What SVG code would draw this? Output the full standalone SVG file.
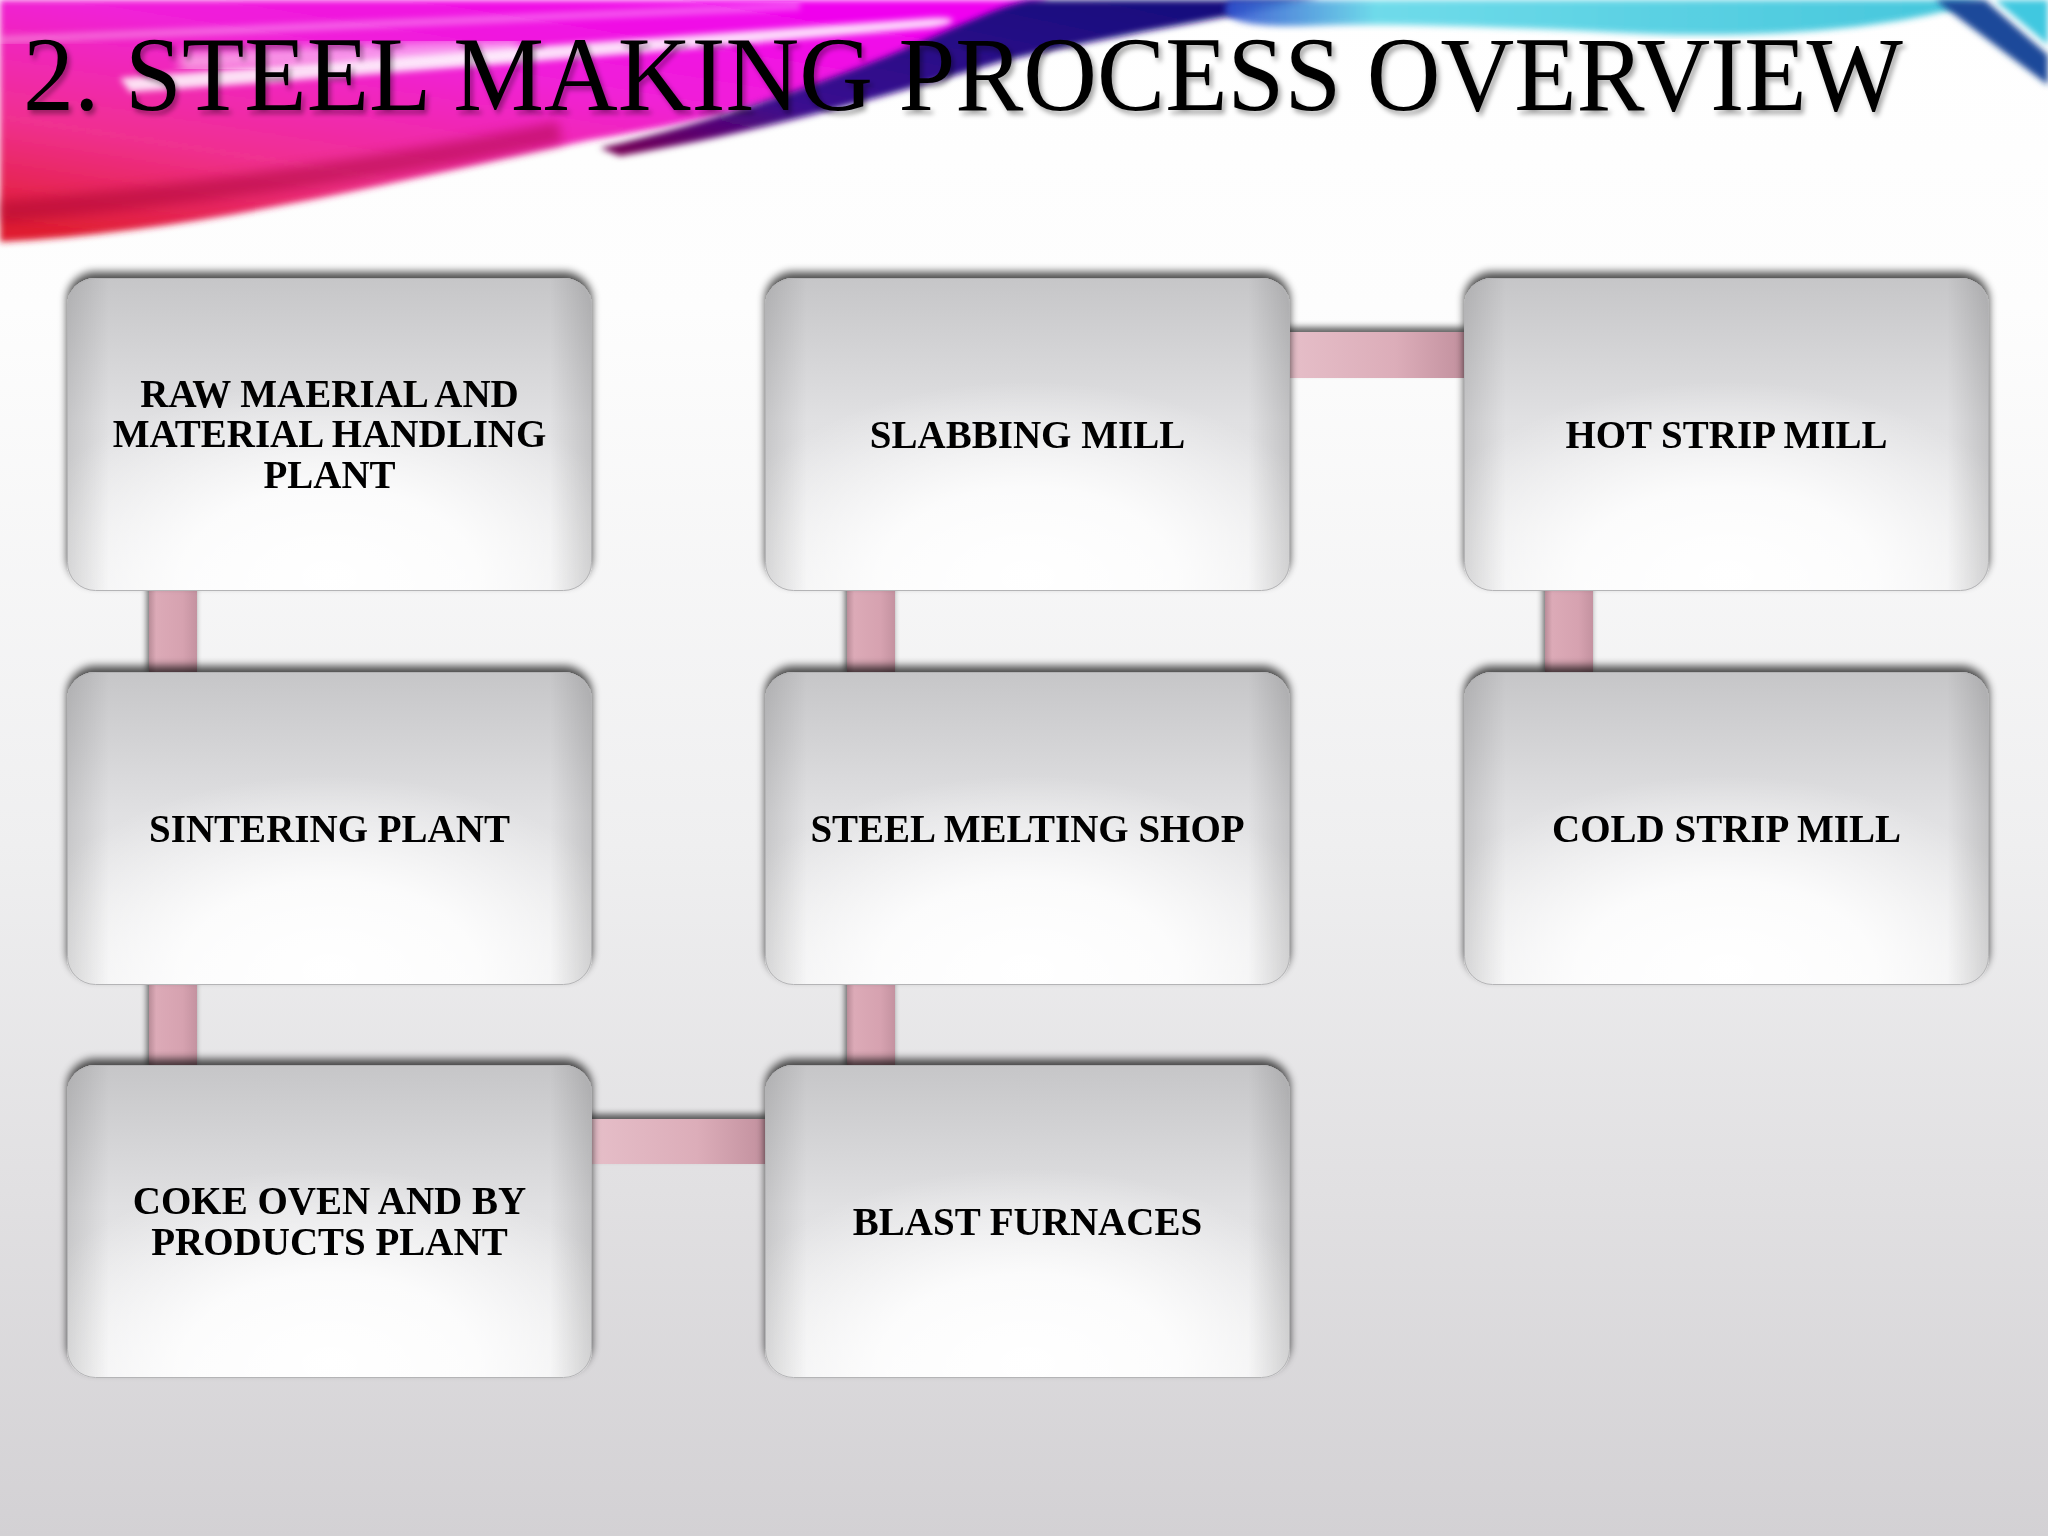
<svg xmlns="http://www.w3.org/2000/svg" width="2048" height="1536" viewBox="0 0 2048 1536">
<defs>
  <linearGradient id="bg" x1="0" y1="0" x2="0" y2="1">
    <stop offset="0" stop-color="#ffffff"/>
    <stop offset="0.2" stop-color="#fdfdfd"/>
    <stop offset="0.55" stop-color="#efeff0"/>
    <stop offset="1" stop-color="#d3d1d4"/>
  </linearGradient>
  <linearGradient id="pinkSwoosh" x1="0.8" y1="0" x2="0.1" y2="1">
    <stop offset="0" stop-color="#f000f0"/>
    <stop offset="0.35" stop-color="#f020d8"/>
    <stop offset="0.7" stop-color="#f03090"/>
    <stop offset="1" stop-color="#e01e30"/>
  </linearGradient>
  <linearGradient id="navy" x1="0" y1="1" x2="1" y2="0">
    <stop offset="0" stop-color="#7a0050"/>
    <stop offset="0.3" stop-color="#3a0a90"/>
    <stop offset="1" stop-color="#10107a"/>
  </linearGradient>
  <linearGradient id="cyan" x1="0" y1="0" x2="1" y2="0">
    <stop offset="0" stop-color="#3050d0"/>
    <stop offset="0.2" stop-color="#60d8e8"/>
    <stop offset="1" stop-color="#30c0d8"/>
  </linearGradient>
  <linearGradient id="boxV" x1="0" y1="0" x2="0" y2="1">
    <stop offset="0" stop-color="#c6c6c8"/>
    <stop offset="0.45" stop-color="#e0e0e2"/>
    <stop offset="1" stop-color="#eeeeef"/>
  </linearGradient>
  <radialGradient id="boxGlow" cx="0.5" cy="0.95" r="0.62">
    <stop offset="0" stop-color="#ffffff" stop-opacity="1"/>
    <stop offset="0.45" stop-color="#ffffff" stop-opacity="0.85"/>
    <stop offset="1" stop-color="#ffffff" stop-opacity="0"/>
  </radialGradient>
  <linearGradient id="boxH" x1="0" y1="0" x2="1" y2="0">
    <stop offset="0" stop-color="#000000" stop-opacity="0.12"/>
    <stop offset="0.08" stop-color="#000000" stop-opacity="0"/>
    <stop offset="0.92" stop-color="#000000" stop-opacity="0"/>
    <stop offset="1" stop-color="#000000" stop-opacity="0.14"/>
  </linearGradient>
  <linearGradient id="connV" x1="0" y1="0" x2="1" y2="0">
    <stop offset="0" stop-color="#b98c98"/>
    <stop offset="0.15" stop-color="#dcaab7"/>
    <stop offset="0.7" stop-color="#d6a2b0"/>
    <stop offset="1" stop-color="#c492a0"/>
  </linearGradient>
  <linearGradient id="connH" x1="0" y1="0" x2="1" y2="0">
    <stop offset="0" stop-color="#e6bfc9"/>
    <stop offset="0.6" stop-color="#dcadb9"/>
    <stop offset="1" stop-color="#c08e9c"/>
  </linearGradient>
  <filter id="boxShadow" x="-10%" y="-10%" width="120%" height="120%">
    <feGaussianBlur in="SourceAlpha" stdDeviation="4"/>
    <feOffset dx="0" dy="-6" result="b"/>
    <feComponentTransfer in="b" result="s"><feFuncA type="linear" slope="0.7"/></feComponentTransfer>
    <feMerge><feMergeNode in="s"/><feMergeNode in="SourceGraphic"/></feMerge>
  </filter>
  <filter id="connShadow" x="-20%" y="-40%" width="140%" height="180%">
    <feGaussianBlur in="SourceAlpha" stdDeviation="3"/>
    <feOffset dx="-2" dy="-5" result="b"/>
    <feComponentTransfer in="b" result="s"><feFuncA type="linear" slope="0.6"/></feComponentTransfer>
    <feMerge><feMergeNode in="s"/><feMergeNode in="SourceGraphic"/></feMerge>
  </filter>
  <filter id="titleShadow" x="-5%" y="-20%" width="110%" height="140%">
    <feDropShadow dx="3" dy="4" stdDeviation="2.5" flood-color="#000000" flood-opacity="0.35"/>
  </filter>
  <filter id="soft" x="-10%" y="-10%" width="120%" height="120%">
    <feGaussianBlur stdDeviation="3"/>
  </filter>
  <filter id="softer" x="-10%" y="-50%" width="120%" height="200%">
    <feGaussianBlur stdDeviation="6"/>
  </filter>
  <g id="boxShape">
    <rect x="0" y="0" width="525" height="313" rx="28" ry="28" fill="url(#boxV)"/>
    <rect x="0" y="0" width="525" height="313" rx="28" ry="28" fill="url(#boxGlow)"/>
    <rect x="0" y="0" width="525" height="313" rx="28" ry="28" fill="url(#boxH)"/>
    <rect x="0.5" y="0.5" width="524" height="312" rx="28" ry="28" fill="none" stroke="#b4b4b6" stroke-width="1"/>
  </g>
</defs>
<style>
  .lbl { font-family: "Liberation Serif", "Times New Roman", serif; font-weight: bold; font-size: 39px; fill: #000000; text-anchor: middle; }
  .title { font-family: "Liberation Serif", "Times New Roman", serif; font-size: 106px; fill: #000000; }
  .cv { fill: url(#connV); }
  .ch { fill: url(#connH); }
</style>

<!-- background -->
<rect x="0" y="0" width="2048" height="1536" fill="url(#bg)"/>

<!-- decorative swooshes -->
<g id="swooshes">
  <path d="M0,0 L1050,0 C 910,70 770,110 590,140 C 400,180 200,232 0,242 Z" fill="url(#pinkSwoosh)" filter="url(#soft)"/>
  <path d="M120,78 C 350,60 650,38 930,18 C 960,16 960,24 930,28 C 650,52 380,75 130,92 Z" fill="#ffffff" opacity="0.85" filter="url(#soft)"/>
  <path d="M180,62 C 320,55 440,50 520,48" stroke="#ffffff" stroke-width="18" fill="none" opacity="0.55" filter="url(#softer)"/>
  <path d="M0,40 C 250,30 500,18 800,6" stroke="#ffffff" stroke-width="8" fill="none" opacity="0.3" filter="url(#soft)"/>
  <path d="M0,212 C 200,195 400,165 560,132" stroke="#a00030" stroke-width="22" fill="none" opacity="0.45" filter="url(#softer)"/>
  <path d="M600,148 C 720,120 850,75 960,25 C 990,12 1010,4 1030,0 L1320,0 C 1210,20 1100,38 1000,62 C 880,98 760,132 620,156 Z" fill="url(#navy)" filter="url(#soft)"/>
  <path d="M1230,0 L1985,0 C 1900,28 1780,38 1650,34 C 1520,28 1400,22 1300,26 C 1250,27 1210,20 1230,0 Z" fill="url(#cyan)" opacity="0.9" filter="url(#soft)"/>
  <path d="M1935,0 L1985,0 L2048,55 L2048,85 Z" fill="#1a4a9a" filter="url(#soft)"/>
  <path d="M1995,0 L2048,0 L2048,45 Z" fill="#40c8e0" filter="url(#soft)"/>
</g>

<!-- title -->
<text class="title" x="23" y="110" textLength="1880" lengthAdjust="spacingAndGlyphs" filter="url(#titleShadow)">2. STEEL MAKING PROCESS OVERVIEW</text>

<!-- connectors -->
<g id="connectors" filter="url(#connShadow)">
  <rect class="cv" x="149" y="585" width="48" height="92"/>
  <rect class="cv" x="149" y="979" width="48" height="92"/>
  <rect class="ch" x="586" y="1119" width="185" height="45"/>
  <rect class="cv" x="847" y="979" width="48" height="92"/>
  <rect class="cv" x="847" y="585" width="48" height="92"/>
  <rect class="ch" x="1284" y="332" width="186" height="46"/>
  <rect class="cv" x="1545" y="585" width="48" height="92"/>
</g>

<!-- nodes -->
<g id="node-raw-material" filter="url(#boxShadow)">
  <use href="#boxShape" x="67" y="278"/>
  <text class="lbl" x="329.5" y="407">RAW MAERIAL AND</text>
  <text class="lbl" x="329.5" y="447">MATERIAL HANDLING</text>
  <text class="lbl" x="329.5" y="488">PLANT</text>
</g>
<g id="node-sintering" filter="url(#boxShadow)">
  <use href="#boxShape" x="67" y="672"/>
  <text class="lbl" x="329.5" y="842">SINTERING PLANT</text>
</g>
<g id="node-coke-oven" filter="url(#boxShadow)">
  <use href="#boxShape" x="67" y="1065"/>
  <text class="lbl" x="329.5" y="1214">COKE OVEN AND BY</text>
  <text class="lbl" x="329.5" y="1255">PRODUCTS PLANT</text>
</g>
<g id="node-blast-furnaces" filter="url(#boxShadow)">
  <use href="#boxShape" x="765" y="1065"/>
  <text class="lbl" x="1027.5" y="1235">BLAST FURNACES</text>
</g>
<g id="node-steel-melting" filter="url(#boxShadow)">
  <use href="#boxShape" x="765" y="672"/>
  <text class="lbl" x="1027.5" y="842">STEEL MELTING SHOP</text>
</g>
<g id="node-slabbing" filter="url(#boxShadow)">
  <use href="#boxShape" x="765" y="278"/>
  <text class="lbl" x="1027.5" y="448">SLABBING MILL</text>
</g>
<g id="node-hot-strip" filter="url(#boxShadow)">
  <use href="#boxShape" x="1464" y="278"/>
  <text class="lbl" x="1726.5" y="448">HOT STRIP MILL</text>
</g>
<g id="node-cold-strip" filter="url(#boxShadow)">
  <use href="#boxShape" x="1464" y="672"/>
  <text class="lbl" x="1726.5" y="842">COLD STRIP MILL</text>
</g>
</svg>
